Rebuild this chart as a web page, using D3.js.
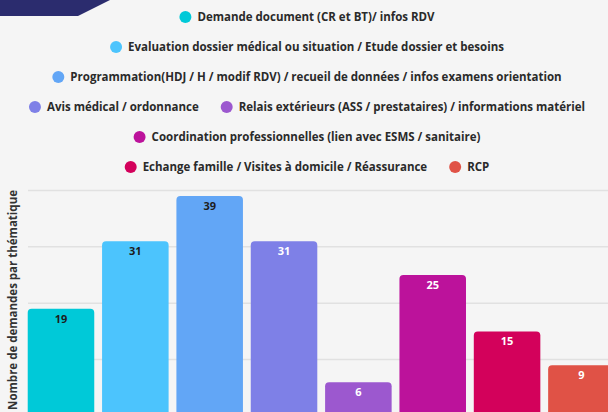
<!DOCTYPE html>
<html lang="fr">
<head>
  <meta charset="UTF-8" />
  <title>Nombre de demandes par thématique</title>
  <script src="https://cdn.jsdelivr.net/npm/d3@7"></script>
  <style>
    html, body { margin: 0; padding: 0; background: #f5f5f5; overflow: hidden; }
    svg { display: block; font-family: "Open Sans", sans-serif; }
  </style>
</head>
<body>
  <script>
    // ----------------------------
    // Data
    // ----------------------------
    const categories = [
      "Demande document (CR et BT)/ infos RDV",
      "Evaluation dossier médical ou situation / Etude dossier et besoins",
      "Programmation(HDJ / H / modif RDV) / recueil de données / infos examens orientation",
      "Avis médical / ordonnance",
      "Relais extérieurs (ASS / prestataires) / informations matériel",
      "Coordination professionnelles (lien avec ESMS / sanitaire)",
      "Echange famille / Visites à domicile / Réassurance",
      "RCP"
    ];
    const values = [19, 31, 39, 31, 6, 25, 15, 9];
    const colors = ["#00c9d8", "#4cc4fd", "#62a6f6", "#7e80e7", "#9c58cf", "#bc129b", "#d3015b", "#e05246"];
    const labelColors = ["#1d1d1d", "#1d1d1d", "#1d1d1d", "#ffffff", "#ffffff", "#ffffff", "#ffffff", "#ffffff"];
    const gridTicks = [10, 20, 30, 40];
    const legendRows = [[0], [1], [2], [3, 4], [5], [6, 7]];
    const yTitle = "Nombre de demandes par thématique";

    const width = 608, height = 412;

    const svg = d3.select("body").append("svg")
      .attr("width", width)
      .attr("height", height);

    svg.append("rect").attr("width", width).attr("height", height).attr("fill", "#f5f5f5");

    // corner decoration
    svg.append("path")
      .attr("d", "M0,0 L110,0 L78,16 L0,16 Z")
      .attr("fill", "#2b2c6e");

    // ----------------------------
    // Scales
    // ----------------------------
    const x = d3.scaleBand()
      .domain(d3.range(categories.length))
      .range([24, 618.4])
      .paddingInner(0.105)
      .paddingOuter(0.05);

    const y = d3.scaleLinear()
      .domain([0, 40])
      .range([416, 190.4]);

    // gridlines
    svg.append("g")
      .selectAll("line")
      .data(gridTicks)
      .join("line")
        .attr("x1", 28)
        .attr("x2", width)
        .attr("y1", d => y(d))
        .attr("y2", d => y(d))
        .attr("stroke", "#e1e1e1")
        .attr("stroke-width", 1.5);

    // bars
    const r = 4;
    svg.append("g")
      .selectAll("path")
      .data(values)
      .join("path")
        .attr("fill", (d, i) => colors[i])
        .attr("d", (d, i) => {
          const x0 = x(i), w = x.bandwidth(), y0 = y(d), y1 = y(0) + 10;
          return `M${x0},${y1} L${x0},${y0 + r} Q${x0},${y0} ${x0 + r},${y0}
                  L${x0 + w - r},${y0} Q${x0 + w},${y0} ${x0 + w},${y0 + r} L${x0 + w},${y1} Z`;
        });

    // value labels
    svg.append("g")
      .selectAll("text")
      .data(values)
      .join("text")
        .attr("x", (d, i) => x(i) + x.bandwidth() / 2)
        .attr("y", d => y(d) + 14)
        .attr("text-anchor", "middle")
        .attr("font-size", 11)
        .attr("font-weight", 700)
        .attr("fill", (d, i) => labelColors[i])
        .text(d => d);

    // y axis title
    svg.append("text")
      .attr("transform", "translate(17,190) rotate(-90)")
      .attr("text-anchor", "end")
      .attr("font-size", 11.5)
      .attr("font-weight", 700)
      .attr("fill", "#333")
      .text(yTitle);

    // ----------------------------
    // Legend (centered rows)
    // ----------------------------
    const legend = svg.append("g");
    const dotR = 6, dotGap = 6, itemGap = 22, rowY0 = 17, rowStep = 30, cx = 307;

    legendRows.forEach((row, ri) => {
      const g = legend.append("g");
      let offset = 0;
      row.forEach((ci, k) => {
        if (k > 0) offset += itemGap;
        g.append("circle")
          .attr("cx", offset + dotR)
          .attr("cy", 0)
          .attr("r", dotR)
          .attr("fill", colors[ci]);
        const t = g.append("text")
          .attr("x", offset + dotR * 2 + dotGap)
          .attr("y", 4)
          .attr("font-size", 11.5)
          .attr("font-weight", 700)
          .attr("fill", "#2a2a2a")
          .text(categories[ci]);
        offset += dotR * 2 + dotGap + t.node().getComputedTextLength();
      });
      g.attr("transform", `translate(${cx - offset / 2},${rowY0 + ri * rowStep})`);
    });
  </script>
</body>
</html>
